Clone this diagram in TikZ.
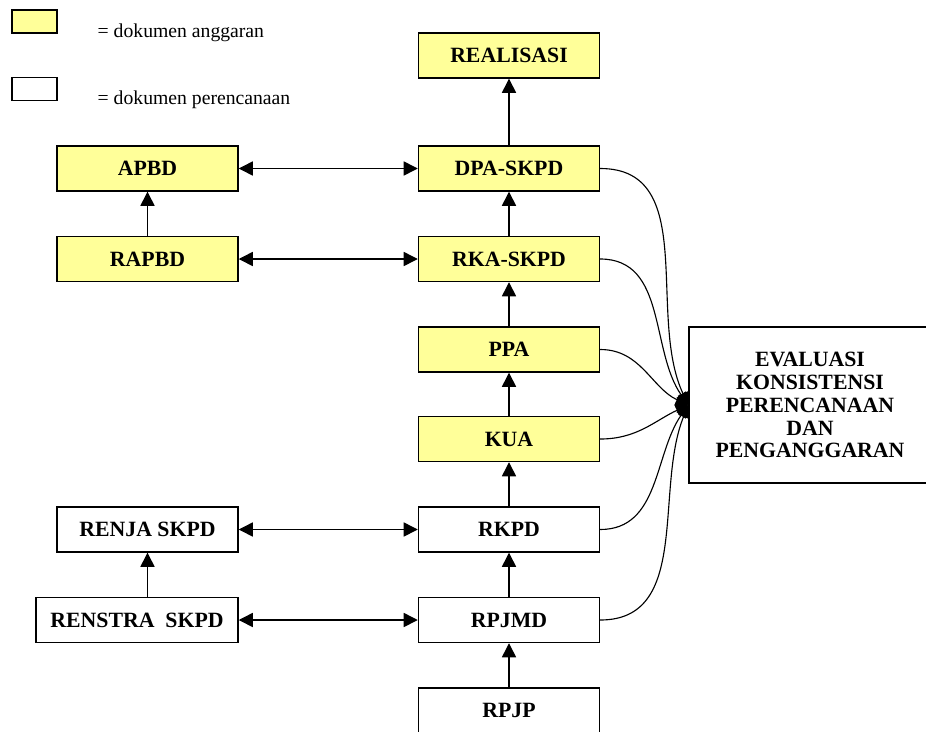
\documentclass[tikz,border=0pt]{standalone}
\usepackage{fontspec}
\setmainfont{Liberation Serif}
\usetikzlibrary{arrows.meta}
\definecolor{kuning}{HTML}{FFFF99}

\begin{document}
\begin{tikzpicture}[->,>={Triangle[length=10pt,width=10pt]},line width=1pt,x=0.025cm,y=-0.025cm,
                doc/.style={draw=black,minimum width=4.525cm,minimum height=1.125cm,inner sep=0pt,font=\fontsize{15.5pt}{16pt}\selectfont\bfseries},
                anggaran/.style={doc,fill=kuning},
                rencana/.style={doc},
                legenda/.style={draw=black,minimum width=1.125cm,minimum height=0.575cm,inner sep=0pt},
                ket/.style={anchor=west,inner sep=0pt,font=\fontsize{14pt}{16pt}\selectfont},
                kurva/.style={line width=0.8pt,>={Triangle[length=9pt,width=8pt]}}]
                \useasboundingbox (0, 0) rectangle (926, 731);
                % legenda
                \node[legenda,fill=kuning](legA)at(34.5, 21.5){};
                \node[legenda](legB)at(34.5, 89){};
                \node[ket](ketA)at(97, 33){= dokumen anggaran};
                \node[ket](ketB)at(97, 100){= dokumen perencanaan};
                % kolom kanan
                \node[anggaran](real)at(509, 55.5){REALISASI};
                \node[anggaran](dpa)at(509, 168.5){DPA-SKPD};
                \node[anggaran](rka)at(509, 259){RKA-SKPD};
                \node[anggaran](ppa)at(509, 349.5){PPA};
                \node[anggaran](kua)at(509, 439){KUA};
                \node[rencana](rkpd)at(509, 529.5){RKPD};
                \node[rencana](rpjmd)at(509, 620){RPJMD};
                \node[rencana](rpjp)at(509, 710.5){RPJP};
                % kolom kiri
                \node[anggaran](apbd)at(147.5, 168.5){APBD};
                \node[anggaran](rapbd)at(147.5, 259){RAPBD};
                \node[rencana](renja)at(147.5, 529.5){RENJA SKPD};
                \node[rencana,minimum width=5.05cm](renstra)at(137, 620){RENSTRA~~SKPD};
                % evaluasi
                \node[doc,minimum width=6.05cm,minimum height=3.9cm,align=center,font=\fontsize{15.5pt}{16.3pt}\selectfont\bfseries](eval)at(810, 405){EVALUASI\\KONSISTENSI\\PERENCANAAN\\DAN\\PENGANGGARAN};
                \path[](dpa) edge (real)
                (rka) edge (dpa)
                (ppa) edge (rka)
                (kua) edge (ppa)
                (rkpd) edge (kua)
                (rpjmd) edge (rkpd)
                (rpjp) edge (rpjmd)
                (rapbd) edge (apbd)
                (renja |- renstra.north) edge (renja)
                (apbd) edge [<->] (dpa)
                (rapbd) edge [<->] (rka)
                (renja) edge [<->] (rkpd)
                (renstra) edge [<->] (rpjmd);
                \path[kurva](dpa.east) edge [out=0,in=115] (eval.west)
                (rka.east) edge [out=0,in=125] (eval.west)
                (ppa.east) edge [out=0,in=155] (eval.west)
                (kua.east) edge [out=0,in=205] (eval.west)
                (rkpd.east) edge [out=0,in=235] (eval.west)
                (rpjmd.east) edge [out=0,in=248] (eval.west);
            \end{tikzpicture}
\end{document}
